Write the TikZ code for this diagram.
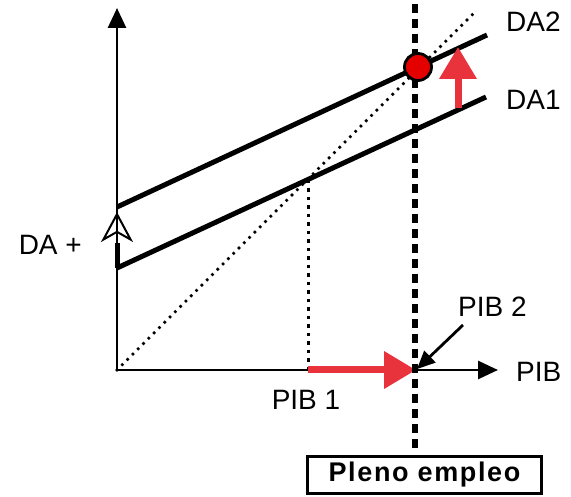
\documentclass[tikz,border=0pt]{standalone}
\usepackage{fontspec}
\setmainfont{Liberation Sans}
\usetikzlibrary{arrows.meta}
\definecolor{redarr}{HTML}{E8323C}
\tikzset{
  curve/.style={line width=5pt},
  axis/.style={line width=2.8pt,-{Triangle[length=20pt,width=18pt]}},
  lab/.style={font=\fontsize{28}{32}\selectfont,inner sep=0pt},
  redarrow/.style={redarr,line width=7pt,-{Triangle[length=32pt,width=36pt]}},
}
\begin{document}
\begin{tikzpicture}[x=1pt,y=-1pt]
\useasboundingbox (0,0) rectangle (571,497);
\coordinate (O) at (117,370);
\coordinate (ytop) at (117,8);
\coordinate (xend) at (498,370);
\coordinate (diag) at (474,13);
\coordinate (a1) at (117,268);
\coordinate (b1) at (486,97);
\coordinate (a2) at (117,207);
\coordinate (b2) at (487,35);
\coordinate (k1) at (308,180);
\coordinate (k1b) at (308,370);
\coordinate (fetop) at (415,4);
\coordinate (febot) at (415,453);
\coordinate (r1) at (308,370);
\coordinate (r2) at (416,370);
\coordinate (u1) at (458,108);
\coordinate (u2) at (458,47);
\coordinate (p2a) at (463,325);
\coordinate (p2b) at (417,369);
\coordinate (dp1) at (117,243);
\coordinate (dp2) at (117,212);
% axes
\draw[axis] (O) -- (ytop);
\draw[axis] (O) -- (xend);
% 45 degree line
\draw[line width=3.6pt,line cap=round,dash pattern=on 0pt off 7.5pt] (O) -- (diag);
% DA lines
\draw[curve] (a1) -- (b1);
\draw[curve] (a2) -- (b2);
% guide vertical
\draw[line width=3pt,dash pattern=on 3.5pt off 5pt] (k1) -- (k1b);
% DA + arrow
\draw[line width=5pt] (a1) -- (dp1);
\draw[line width=2pt,-{Stealth[open,length=30pt,width=32pt,inset=9pt,line width=2pt]}] (dp1) -- (dp2);
% red arrows
\draw[redarrow] (r1) -- (r2);
\draw[redarrow] (u1) -- (u2);
% full employment line
\draw[line width=6.5pt,dash pattern=on 9pt off 6pt] (fetop) -- (febot);
% equilibrium point
\node[circle,draw=black,fill=red!90!black,line width=2.8pt,minimum size=27pt,inner sep=0pt] (eq) at (418,67) {};
% PIB 2 arrow
\draw[line width=2.8pt,-{Triangle[length=18pt,width=16pt]}] (p2a) -- (p2b);
% labels
\node[lab,anchor=west] (lda2) at (506,22) {DA2};
\node[lab,anchor=west] (lda1) at (506,100) {DA1};
\node[lab,anchor=east] (ldap) at (82,245) {DA +};
\node[lab,anchor=west] (lpib2) at (458,307) {PIB 2};
\node[lab,anchor=west] (lpib) at (516,372) {PIB};
\node[lab] (lpib1) at (306,400) {PIB 1};
\node[draw=black,line width=3pt,minimum width=234pt,minimum height=37pt,inner sep=0pt,anchor=north west,font=\fontsize{27}{30}\selectfont\bfseries\addfontfeature{LetterSpace=6}] (box) at (306,455) {Pleno empleo};
\end{tikzpicture}
\end{document}
